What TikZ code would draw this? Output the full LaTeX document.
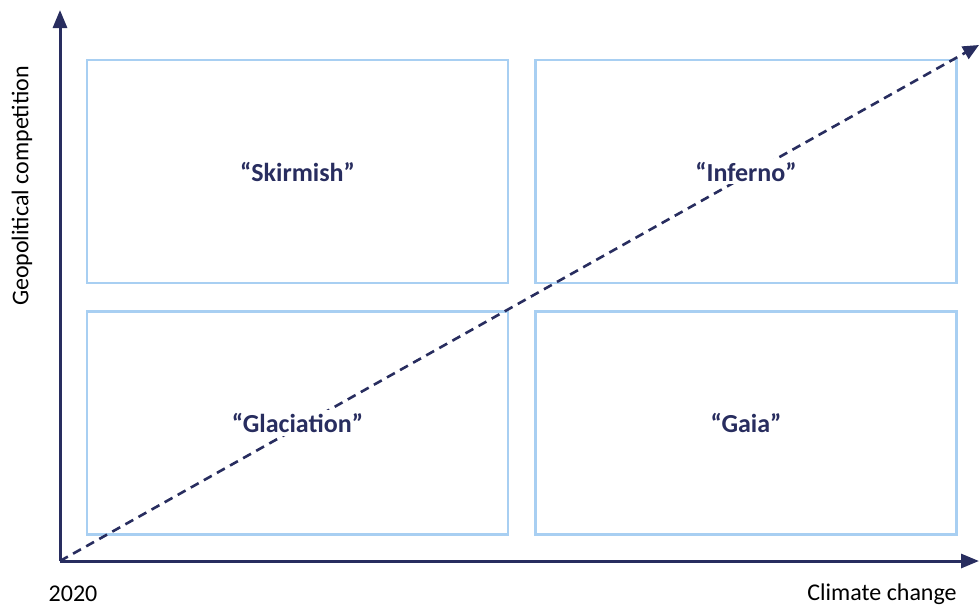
\documentclass[tikz,border=0pt]{standalone}
\usepackage{fontspec}
\setmainfont{Carlito}
\usetikzlibrary{arrows.meta}
\definecolor{navy}{RGB}{40,45,95}
\definecolor{boxblue}{RGB}{168,207,242}
\tikzset{
  quad/.style={draw=boxblue, line width=2.5pt, rectangle, inner sep=0pt,
               minimum width=421pt, minimum height=223pt},
  axis/.style={draw=navy, line width=3pt, -{Triangle[length=18pt,width=14pt]}},
  trend/.style={draw=navy, line width=2.6pt, dash pattern=on 9pt off 6pt,
                -{Triangle[length=16pt,width=14pt]}},
  qlabel/.style={fill=white, text=navy, inner sep=3pt,
                 font=\fontsize{26}{30}\selectfont\bfseries},
  alabel/.style={text=black, inner sep=0pt, font=\fontsize{24}{28}\selectfont}
}
\begin{document}
\begin{tikzpicture}[x=1pt,y=-1pt]
\useasboundingbox (0,0) rectangle (979,606);
% quadrants
\node[quad] (tl) at (297.5,171.5) {};
\node[quad] (tr) at (746,171.5) {};
\node[quad] (bl) at (297.5,423) {};
\node[quad] (br) at (746,423) {};
% axes
\coordinate (o) at (60,561);
\coordinate (ytip) at (60,10);
\coordinate (xtip) at (979,561);
\coordinate (dtip) at (979,45);
\draw[axis] (o) -- (ytip);
\draw[axis] (o) -- (xtip);
\draw[trend] (o) -- (dtip);
% quadrant labels
\node[qlabel] (skirmish) at (tl.center) {“Skirmish”};
\node[qlabel] (inferno) at (tr.center) {“Inferno”};
\node[qlabel] (glaciation) at (bl.center) {“Glaciation”};
\node[qlabel] (gaia) at (br.center) {“Gaia”};
% axis labels
\node[alabel] (year) at (73,594) {2020};
\node[alabel] (xlab) at (882,594) {Climate change};
\node[alabel, rotate=90] (ylab) at (22,186) {Geopolitical competition};
\end{tikzpicture}
\end{document}
